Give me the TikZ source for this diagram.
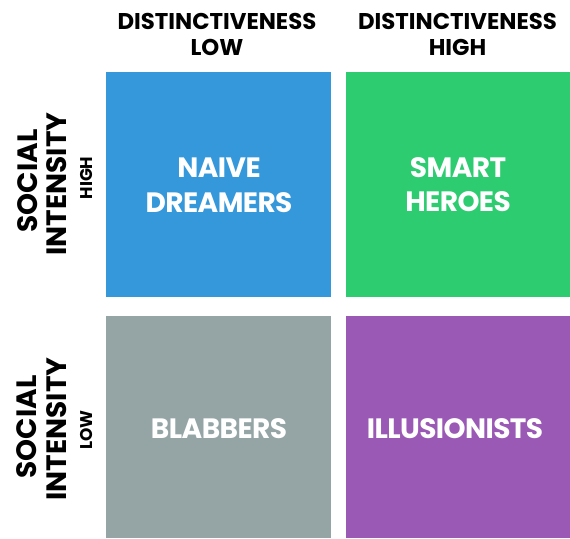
\documentclass[tikz,border=0pt]{standalone}
\usepackage{fontspec}
\setmainfont{Poppins}
\definecolor{qblue}{HTML}{3498DB}
\definecolor{qgreen}{HTML}{2ECC71}
\definecolor{qgray}{HTML}{95A5A6}
\definecolor{qpurple}{HTML}{9B59B6}
\tikzset{
  quad/.style={draw=none, inner sep=0pt, outer sep=0pt},
  head/.style={anchor=base, inner sep=0pt, font=\fontsize{22.8}{26}\selectfont\bfseries},
  axbig/.style={anchor=base, rotate=90, inner sep=0pt, font=\fontsize{28}{32}\selectfont\bfseries},
  axsmall/.style={anchor=base, rotate=90, inner sep=0pt, font=\fontsize{17}{20}\selectfont\bfseries},
  qtext/.style={anchor=base, inner sep=0pt, text=white, font=\fontsize{28}{32}\selectfont\bfseries\addfontfeatures{LetterSpace=-2}}
}
\begin{document}
\begin{tikzpicture}[x=1pt,y=-1pt]
\useasboundingbox (0,0) rectangle (570,538);
% quadrants
\path[fill=qblue]   (106,72)  rectangle (331,297) node[quad, midway] (qa) {};
\path[fill=qgreen]  (346,72)  rectangle (570,297) node[quad, midway] (qb) {};
\path[fill=qgray]   (106,316) rectangle (331,538) node[quad, midway] (qc) {};
\path[fill=qpurple] (346,316) rectangle (570,538) node[quad, midway] (qd) {};
% headers
\node[head] (h1a) at (217,29) {DISTINCTIVENESS};
\node[head] (h1b) at (217,55) {LOW};
\node[head] (h2a) at (457.5,29) {DISTINCTIVENESS};
\node[head] (h2b) at (457.5,55) {HIGH};
% side labels
\node[axbig] (s1a) at (37,181) {SOCIAL};
\node[axbig] (s1b) at (66,184) {INTENSITY};
\node[axsmall] (s1c) at (92,178) {HIGH};
\node[axbig] (s2a) at (36,427) {SOCIAL};
\node[axbig] (s2b) at (66,429) {INTENSITY};
\node[axsmall] (s2c) at (92,430) {LOW};
% quadrant labels
\node[qtext] (ta1) at (219,177) {NAIVE};
\node[qtext] (ta2) at (219,212) {DREAMERS};
\node[qtext] (tb1) at (458,177) {SMART};
\node[qtext] (tb2) at (458,211) {HEROES};
\node[qtext] (tc) at (219,438) {BLABBERS};
\node[qtext] (td) at (455,438) {ILLUSIONISTS};
\end{tikzpicture}
\end{document}
